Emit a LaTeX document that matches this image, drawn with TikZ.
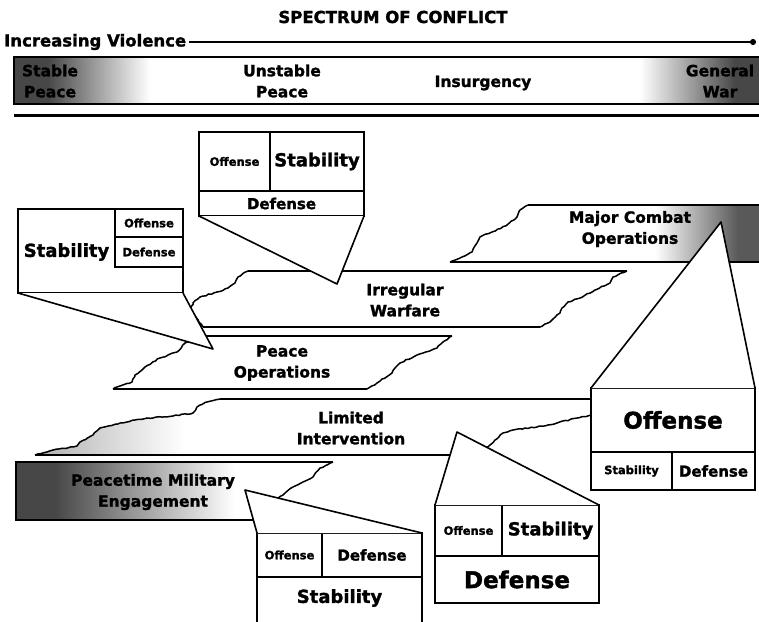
\documentclass[tikz,border=0pt]{standalone}
\usepackage{fontspec}
\setmainfont{DejaVu Sans}[BoldFeatures={FakeBold=1.6}]
\usetikzlibrary{arrows.meta,decorations.pathmorphing}

\begin{document}
\begin{tikzpicture}[
    x=1pt, y=-1pt,
    every node/.style={inner sep=0pt, align=center},
    ttl/.style={font=\fontsize{16.5}{20}\selectfont\bfseries},
    bandtxt/.style={font=\fontsize{15.5}{21}\selectfont\bfseries},
    big/.style={font=\fontsize{23}{26}\selectfont\bfseries},
    mid/.style={font=\fontsize{18}{20}\selectfont\bfseries},
    med/.style={font=\fontsize{15}{18}\selectfont\bfseries},
    sml/.style={font=\fontsize{11.5}{13}\selectfont\bfseries},
    cell/.style={draw, line width=1.6pt, fill=white, outer sep=0pt},
    ptr/.style={draw, fill=white, line width=1.6pt, line join=round},
    bandedge/.style={line width=2.6pt},
    tear/.style={line width=1.5pt, decorate,
        decoration={random steps, segment length=3pt, amplitude=0.6pt}}
]
\pgfmathsetseed{11}
\useasboundingbox (0,0) rectangle (759,621);
\clip (0,0) rectangle (759,621);

% spectrum bar
\node[ttl] (title) at (393,17) {SPECTRUM OF CONFLICT};
\node[ttl, anchor=west] (incr) at (4,42) {Increasing Violence};
\coordinate (vEnd) at (756,42);
\draw[line width=2pt, shorten <=3pt, -{Circle[length=6pt]}] (incr) -- (vEnd);

\fill[black!72] (14,57) rectangle (48,104);
\shade[left color=black!72, right color=white] (48,57) rectangle (150,104);
\shade[left color=white, right color=black!72] (640,57) rectangle (735,104);
\fill[black!72] (735,57) rectangle (759,104);
\draw[line width=2.5pt] (759,57) -- (14,57) -- (14,104) -- (759,104);
\draw[line width=3pt] (14,115) -- (759,115);

\node[bandtxt] (stable) at (50,81) {Stable\\Peace};
\node[bandtxt] (unstable) at (282,81) {Unstable\\Peace};
\node[bandtxt] (insurg) at (483,83) {Insurgency};
\node[bandtxt] (general) at (720,81) {General\\War};

% major combat operations
\shade[left color=white, right color=black!65] (655,205) rectangle (738,262);
\fill[black!65] (738,205) rectangle (759,262);
\draw[bandedge] (528,205) -- (759,205) (759,262) -- (450,262);
\draw[tear] (450,262) -- (462,257) -- (472,252) -- (477,243) -- (480,237)
    -- (492,232) -- (507,225) -- (517,217) -- (520,210) -- (528,205);
\node[bandtxt] (mc) at (630,229) {Major Combat\\Operations};

% irregular warfare
\draw[bandedge] (248,271) -- (627,271) (540,327) -- (203,327);
\draw[tear] (627,271) -- (613,277) -- (610,283) -- (595,290) -- (580,298)
    -- (568,302) -- (562,308) -- (560,313) -- (550,322) -- (540,327);
\draw[tear] (203,327) -- (190,310) -- (193,303) -- (200,297) -- (217,292)
    -- (228,288) -- (235,283) -- (238,277) -- (248,271);
\node[bandtxt] (iw) at (405,300) {Irregular\\Warfare};

% peace operations
\draw[bandedge] (203,336) -- (452,336) (367,389) -- (113,389);
\draw[tear] (452,336) -- (443,342) -- (437,348) -- (417,355) -- (400,363)
    -- (395,368) -- (392,373) -- (377,383) -- (367,389);
\draw[tear] (113,389) -- (132,382) -- (135,375) -- (145,367) -- (160,358)
    -- (177,352) -- (185,343) -- (192,340) -- (203,336);
\node[bandtxt] (po) at (282,363) {Peace\\Operations};

% limited intervention
\begin{scope}
  \clip (35,455) -- (53,450) -- (77,446) -- (80,442) -- (93,435) -- (100,428)
      -- (120,423) -- (147,418) -- (173,416) -- (193,413) -- (197,407)
      -- (207,402) -- (220,399) -- (300,399) -- (300,455) -- cycle;
  \shade[left color=black!30, right color=white] (40,399) rectangle (185,455);
\end{scope}
\draw[bandedge] (220,399) -- (600,399) (470,455) -- (35,455);
\draw[tear] (600,399) -- (600,412) -- (591,415) -- (577,418) -- (557,423)
    -- (537,427) -- (513,430) -- (503,433) -- (495,440) -- (490,445)
    -- (478,452) -- (470,455);
\draw[tear] (35,455) -- (53,450) -- (77,446) -- (80,442) -- (93,435)
    -- (100,428) -- (120,423) -- (147,418) -- (173,416) -- (193,413)
    -- (197,407) -- (207,402) -- (220,399);
\node[bandtxt] (li) at (351,428) {Limited\\Intervention};

% peacetime military engagement
\fill[black!72] (16,462) rectangle (55,520);
\shade[left color=black!72, right color=white] (55,462) rectangle (235,520);
\draw[bandedge] (258,520) -- (16,520) -- (16,462) -- (333,462);
\draw[tear] (333,462) -- (320,468) -- (313,477) -- (303,482) -- (293,487)
    -- (283,495) -- (270,505) -- (262,515) -- (258,520);
\node[bandtxt] (pm) at (153,492) {Peacetime Military\\Engagement};

% callout for irregular warfare
\node[cell, sml, minimum width=71, minimum height=59] (tOff) at (234.5,161.5) {Offense};
\node[cell, mid, minimum width=94, minimum height=59] (tStab) at (317,161.5) {Stability};
\node[cell, med, minimum width=165, minimum height=25] (tDef) at (281.5,203.5) {Defense};
\coordinate (iwTip) at (337,284);
\path[ptr] (tDef.south west) -- (iwTip) -- (tDef.south east);

% callout for peace operations
\node[cell, minimum width=165, minimum height=84] (lBox) at (100.5,251) {};
\node[mid] (lStab) at (66.5,252) {Stability};
\node[cell, sml, minimum width=68, minimum height=28] (lOff) at (149,223) {Offense};
\node[cell, sml, minimum width=68, minimum height=30] (lDef) at (149,252) {Defense};
\coordinate (poTip) at (213,349);
\path[ptr] (lBox.south west) -- (poTip) -- (lBox.south east);

% callout for major combat operations
\node[cell, big, minimum width=164, minimum height=64] (oOff) at (673,420) {Offense};
\node[cell, sml, minimum width=81, minimum height=38] (oStab) at (631.5,471) {Stability};
\node[cell, med, minimum width=83, minimum height=38] (oDef) at (713.5,471) {Defense};
\coordinate (mcTip) at (721,222);
\path[ptr] (oOff.north west) -- (mcTip) -- (oOff.north east);

% callout for limited intervention
\node[cell, sml, minimum width=67, minimum height=51] (dOff) at (468.5,530.5) {Offense};
\node[cell, mid, minimum width=97, minimum height=51] (dStab) at (550.5,530.5) {Stability};
\node[cell, big, minimum width=164, minimum height=47] (dDef) at (517,579.5) {Defense};
\coordinate (liTip) at (457,432);
\path[ptr] (dOff.north west) -- (liTip) -- (dStab.north east);

% callout for peacetime military engagement
\node[cell, sml, minimum width=65, minimum height=44] (bOff) at (289.5,555) {Offense};
\node[cell, med, minimum width=100, minimum height=44] (bDef) at (372,555) {Defense};
\node[cell, minimum width=165, minimum height=63] (bBox) at (339.5,608.5) {};
\node[mid] (bStab) at (339.5,598) {Stability};
\coordinate (pmTip) at (245,490);
\path[ptr] (bOff.north west) -- (pmTip) -- (bDef.north east);
\end{tikzpicture}
\end{document}
